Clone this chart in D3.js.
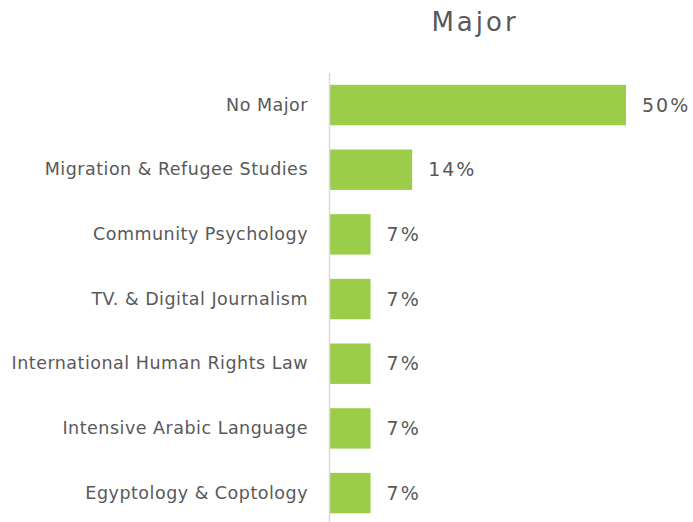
<!DOCTYPE html>
<html>
<head>
<meta charset="utf-8">
<script src="https://cdn.jsdelivr.net/npm/d3@7"></script>
<style>
  html, body { margin: 0; padding: 0; background: #fff; }
  svg { display: block; }
</style>
</head>
<body>
<svg id="chart" width="693" height="522"></svg>
<script>
const categories = [
  "No Major",
  "Migration & Refugee Studies",
  "Community Psychology",
  "TV. & Digital Journalism",
  "International Human Rights Law",
  "Intensive Arabic Language",
  "Egyptology & Coptology"
];
const values = [50, 14, 7, 7, 7, 7, 7];
const valueLabels = ["50%", "14%", "7%", "7%", "7%", "7%", "7%"];
const title = "Major";

const data = categories.map((c, i) => ({ cat: c, val: values[i], lbl: valueLabels[i] }));

const svg = d3.select("#chart");
const font = "'DejaVu Sans', sans-serif";
const textColor = "#595959";

const x = d3.scaleLinear().domain([0, 50]).range([329, 626]);
const y = d3.scaleBand().domain(categories).range([72.7, 525.4])
  .paddingInner(0.375).paddingOuter(0.1875);

svg.append("text")
  .attr("x", 475).attr("y", 31)
  .attr("text-anchor", "middle")
  .attr("font-family", font)
  .attr("font-size", 26)
  .attr("letter-spacing", 3)
  .attr("fill", textColor)
  .text(title);

svg.append("g").selectAll("rect").data(data).join("rect")
  .attr("x", x(0))
  .attr("y", d => y(d.cat))
  .attr("width", d => x(d.val) - x(0))
  .attr("height", y.bandwidth())
  .attr("fill", "#9BCD4B");

// category axis
const axis = d3.axisLeft(y).tickSize(0).tickPadding(21);
const gAxis = svg.append("g").attr("transform", `translate(${x(0)},0)`).call(axis);
gAxis.select(".domain").attr("stroke", "#d9d9d9").attr("stroke-width", 1.5);
gAxis.selectAll("text")
  .attr("font-family", font)
  .attr("font-size", 17.5)
  .attr("letter-spacing", 0.5)
  .attr("fill", textColor);
gAxis.attr("font-family", null).attr("font-size", null);

svg.append("g").selectAll("text").data(data).join("text")
  .attr("x", d => x(d.val) + 16)
  .attr("y", d => y(d.cat) + y.bandwidth() / 2)
  .attr("dy", "0.35em")
  .attr("font-family", font)
  .attr("font-size", 19)
  .attr("letter-spacing", 2)
  .attr("fill", textColor)
  .text(d => d.lbl);
</script>
</body>
</html>
